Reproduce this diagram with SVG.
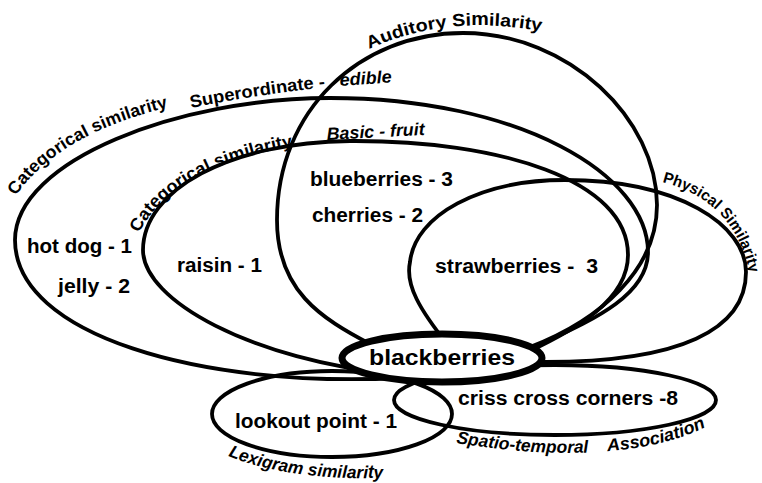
<svg xmlns="http://www.w3.org/2000/svg" width="762" height="483" viewBox="0 0 762 483">
<style>
.loop{fill:none;stroke:#000;stroke-width:3.8;stroke-linecap:round;stroke-linejoin:round}
.lbl{font-family:"Liberation Sans",Arial,sans-serif;font-weight:bold;font-size:20px;fill:#000}
.cur{font-family:"Liberation Sans",Arial,sans-serif;font-weight:bold;font-size:17.5px;fill:#000}
.it{font-style:italic}
</style>
<defs>
<path id="pAud" d="M 369 49 Q 450 12 550 33"/>
<path id="pCat1" d="M 16 196 C 45 152, 105 121, 178 105"/>
<path id="pSup" d="M 191 108 Q 260 94 330 87"/>
<path id="pCat2" d="M 139 233 C 163 185, 225 156, 302 145"/>
<path id="pPhys" d="M 662 182 Q 736 201 750 276"/>
<path id="pLex" d="M 228 456 Q 290 481 392 478"/>
<path id="pSpa" d="M 456 443 C 540 457, 640 460, 708 426"/>
</defs>

<g id="superordinate">
<path class="loop" d="M 528 350 C 580 325, 648 300, 648 252 C 648 175, 520 98, 330 98 C 180 98, 15 160, 15 240 C 15 335, 200 388, 400 378"/>
<text class="cur"><textPath href="#pCat1" textLength="180" lengthAdjust="spacingAndGlyphs">Categorical similarity</textPath></text>
<text class="cur"><textPath href="#pSup" textLength="136" lengthAdjust="spacingAndGlyphs">Superordinate -</textPath></text>
<text class="cur it" x="340" y="86" transform="rotate(-4 340 86)" textLength="52" lengthAdjust="spacingAndGlyphs">edible</text>
<text class="lbl" x="27" y="253" textLength="105" lengthAdjust="spacingAndGlyphs">hot dog - 1</text>
<text class="lbl" x="58" y="293" textLength="72" lengthAdjust="spacingAndGlyphs">jelly - 2</text>
</g>

<g id="basic">
<path class="loop" d="M 528 352 C 575 330, 628 300, 628 255 C 628 180, 500 140, 350 141 C 230 142, 143 190, 143 250 C 143 300, 250 360, 400 375"/>
<text class="cur"><textPath href="#pCat2" textLength="183" lengthAdjust="spacingAndGlyphs">Categorical similarity</textPath></text>
<text class="cur it" x="327" y="140" transform="rotate(-3 327 140)" textLength="98" lengthAdjust="spacingAndGlyphs">Basic - fruit</text>
<text class="lbl" x="177" y="272" textLength="85" lengthAdjust="spacingAndGlyphs">raisin - 1</text>
</g>

<g id="auditory">
<path class="loop" d="M 372 345 C 320 318, 277 290, 277 220 C 277 110, 360 33, 463 33 C 570 33, 657 120, 657 205 C 657 270, 600 320, 530 347"/>
<text class="cur"><textPath href="#pAud" textLength="176" lengthAdjust="spacingAndGlyphs">Auditory Similarity</textPath></text>
<text class="lbl" x="310" y="186" textLength="143" lengthAdjust="spacingAndGlyphs">blueberries - 3</text>
<text class="lbl" x="312" y="222" textLength="111" lengthAdjust="spacingAndGlyphs">cherries - 2</text>
</g>

<g id="physical">
<path class="loop" d="M 448 345 C 420 310, 405 285, 410 262 C 415 215, 480 180, 565 180 C 678 180, 746 225, 746 272 C 746 330, 680 362, 545 362 L 510 360"/>
<text class="cur" style="font-size:15.5px"><textPath href="#pPhys" textLength="134" lengthAdjust="spacingAndGlyphs">Physical Similarity</textPath></text>
<text class="lbl" x="435" y="273" xml:space="preserve" textLength="163" lengthAdjust="spacingAndGlyphs">strawberries -  3</text>
</g>

<g id="lexigram">
<ellipse class="loop" cx="332" cy="414" rx="120" ry="43"/>
<text class="cur it"><textPath href="#pLex" textLength="158" lengthAdjust="spacingAndGlyphs">Lexigram similarity</textPath></text>
<text class="lbl" x="235" y="428" textLength="162" lengthAdjust="spacingAndGlyphs">lookout point - 1</text>
</g>

<g id="spatiotemporal">
<ellipse class="loop" cx="555" cy="400" rx="161" ry="35"/>
<text class="cur it"><textPath href="#pSpa" textLength="133" lengthAdjust="spacingAndGlyphs">Spatio-temporal</textPath></text>
<text class="cur it"><textPath href="#pSpa" startOffset="152" textLength="102" lengthAdjust="spacingAndGlyphs">Association</textPath></text>
<text class="lbl" x="458" y="405" textLength="220" lengthAdjust="spacingAndGlyphs">criss cross corners -8</text>
</g>

<g id="blackberries">
<ellipse cx="442" cy="358" rx="100" ry="24" fill="#fff" stroke="#000" stroke-width="7"/>
<text class="lbl" x="369" y="365" textLength="146" lengthAdjust="spacingAndGlyphs" style="font-size:22px">blackberries</text>
</g>
</svg>
